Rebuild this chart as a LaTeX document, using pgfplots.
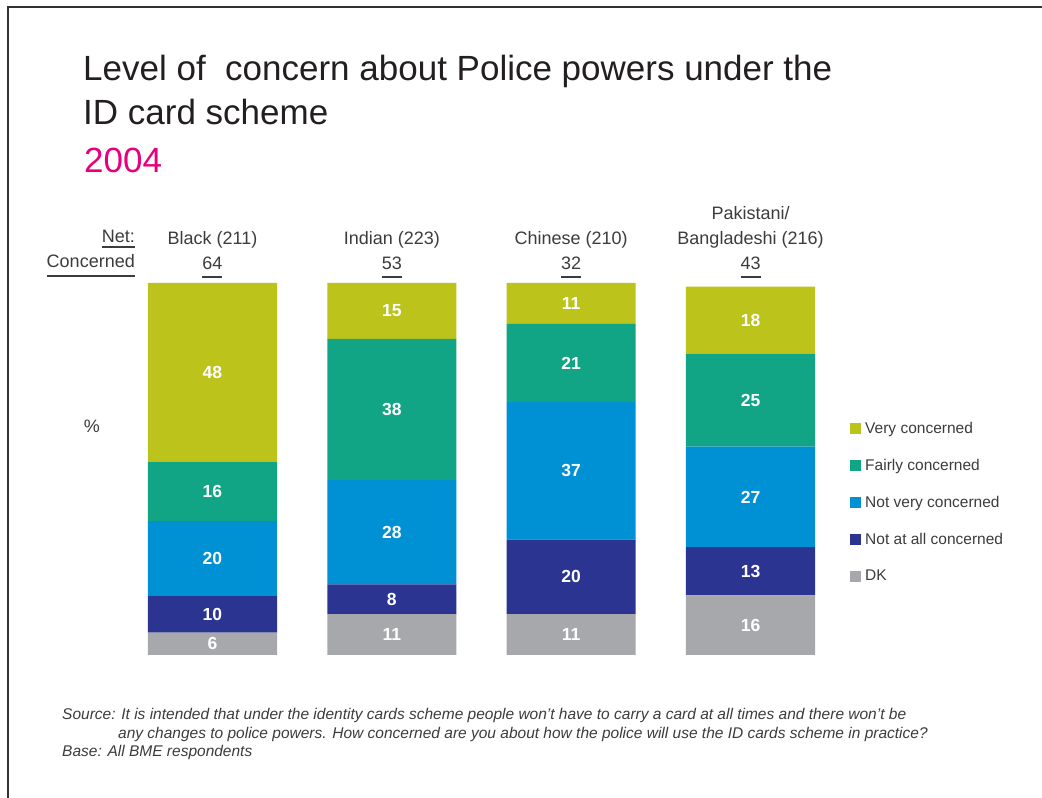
\documentclass[border=0pt]{standalone}
\usepackage{fontspec}
\setmainfont{Liberation Sans}
\usepackage{pgfplots}
\usepackage{pgfplotstable}
\pgfplotsset{compat=1.18}
\definecolor{verycon}{HTML}{BCC31A}
\definecolor{fairlycon}{HTML}{11A586}
\definecolor{notverycon}{HTML}{0091D5}
\definecolor{notallcon}{HTML}{2B3591}
\definecolor{dkcol}{HTML}{A7A8AB}
\definecolor{pinkc}{HTML}{E6007E}
\definecolor{titlec}{HTML}{231F20}
\definecolor{textc}{HTML}{3C3C3C}
\definecolor{framec}{HTML}{333333}

% underline with given gap below the baseline
\newcommand{\uln}[2][7pt]{\vtop{\hbox{#2}\kern#1\hrule height 1.4pt}}

\pgfplotstableread{
x dk notall notvery fairly very
0 6 10 20 16 48
1 11 8 28 38 15
2 11 20 37 21 11
3 16 13 27 25 18
}\data

\begin{document}
\begin{tikzpicture}
\useasboundingbox (0,0) rectangle (1042pt,798pt);
\fill[white] (0,0) rectangle (1042pt,798pt);
\draw[line width=1.5pt, framec] (8pt,0pt) -- (8pt,791pt) -- (1042pt,791pt);

% titles
\node[anchor=base west, inner sep=0pt, text=titlec, font=\fontsize{35}{45}\selectfont] at (83pt,717pt) {Level of \ concern about Police powers under the};
\node[anchor=base west, inner sep=0pt, text=titlec, font=\fontsize{35}{45}\selectfont] at (83pt,673pt) {ID card scheme};
\node[anchor=base west, inner sep=0pt, text=pinkc, font=\fontsize{35}{45}\selectfont] at (84pt,625pt) {2004};

% Net concerned header
\node[anchor=base east, inner sep=0pt, text=textc, font=\fontsize{18}{22}\selectfont] at (135pt,555pt) {\uln[3pt]{Net:}};
\node[anchor=base east, inner sep=0pt, text=textc, font=\fontsize{18}{22}\selectfont] at (135pt,530pt) {\uln[7pt]{Concerned}};

% footnotes
\node[anchor=base west, inner sep=0pt, text=textc, font=\fontsize{15.5}{18}\selectfont\itshape] at (62pt,78pt) {Source: It is intended that under the identity cards scheme people won't have to carry a card at all times and there won't be};
\node[anchor=base west, inner sep=0pt, text=textc, font=\fontsize{15.5}{18}\selectfont\itshape] at (118pt,59pt) {any changes to police powers. How concerned are you about how the police will use the ID cards scheme in practice?};
\node[anchor=base west, inner sep=0pt, text=textc, font=\fontsize{15.5}{18}\selectfont\itshape] at (62pt,41pt) {Base: All BME respondents};

\begin{axis}[
  at={(122.8pt,143pt)}, anchor=south west,
  scale only axis, width=717.4pt, height=372pt,
  xmin=-0.5, xmax=3.5, ymin=0, ymax=100,
  enlargelimits=false, clip=false,
  ybar stacked, bar width=0.72,
  axis line style={draw=none},
  major tick length=0pt,
  ytick=\empty,
  xtick={0,1,2,3},
  xticklabel pos=upper,
  xticklabels={{Black (211)\\\uln{64}},{Indian (223)\\\uln{53}},{Chinese (210)\\\uln{32}},{Pakistani/\\Bangladeshi (216)\\\uln{43}}},
  xticklabel style={anchor=south, align=center, text=textc, font=\fontsize{18}{25}\selectfont, inner sep=0pt, yshift=5pt},
  ylabel={\%},
  ylabel style={rotate=-90, anchor=center, at={(axis description cs:-0.043,0.616)}, text=textc, font=\fontsize{18}{22}\selectfont},
  point meta=explicit symbolic,
  nodes near coords,
  every node near coord/.append style={anchor=center, text=white, font=\fontsize{17.5}{20}\selectfont\bfseries},
  reverse legend,
  legend cell align=left,
  legend image code/.code={\fill[#1] (0pt,-5.5pt) rectangle (11pt,5.5pt);},
  legend style={at={(axis description cs:1.0137,0.632)}, anchor=north west, draw=none, fill=none, font=\fontsize{15.5}{18}\selectfont, text=textc, row sep=20.3pt, column sep=2pt, inner sep=0pt, nodes={inner sep=2pt}},
]
\addplot[fill=dkcol, draw=none] table[x=x, y=dk, meta=dk] {\data};
\addplot[fill=notallcon, draw=none] table[x=x, y=notall, meta=notall] {\data};
\addplot[fill=notverycon, draw=none] table[x=x, y=notvery, meta=notvery] {\data};
\addplot[fill=fairlycon, draw=none] table[x=x, y=fairly, meta=fairly] {\data};
\addplot[fill=verycon, draw=none] table[x=x, y=very, meta=very] {\data};
\legend{DK, Not at all concerned, Not very concerned, Fairly concerned, Very concerned}
\end{axis}
\end{tikzpicture}
\end{document}
